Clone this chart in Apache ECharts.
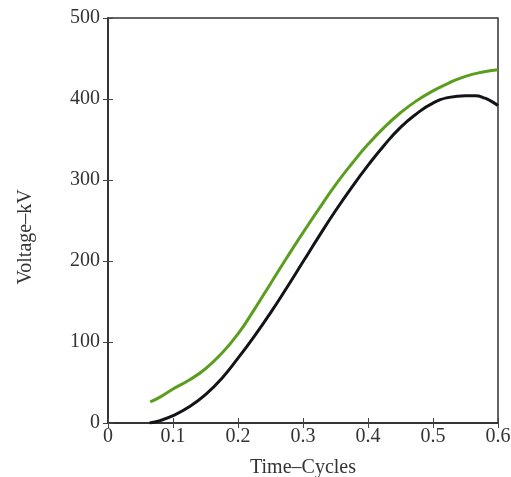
<!DOCTYPE html>
<html>
<head>
<meta charset="utf-8">
<script src="https://cdn.jsdelivr.net/npm/echarts@6/dist/echarts.min.js"></script>
<style>html,body{margin:0;padding:0;background:#fff}#c{width:511px;height:477px}</style>
</head>
<body>
<div id="c"></div>
<script>
var xTicks = [0, 0.1, 0.2, 0.3, 0.4, 0.5, 0.6];
var yTicks = [0, 100, 200, 300, 400, 500];
var greenX = [0.065, 0.08, 0.10, 0.125, 0.15, 0.175, 0.20, 0.225, 0.25, 0.275, 0.30, 0.325, 0.35, 0.375, 0.40, 0.425, 0.45, 0.475, 0.50, 0.525, 0.55, 0.575, 0.60];
var greenY = [26, 32, 42, 53, 67, 86, 110, 140, 172, 204, 235, 265, 294, 320, 344, 365, 383, 398, 410, 420, 428, 433, 436];
var blackX = [0.064, 0.08, 0.10, 0.125, 0.15, 0.175, 0.20, 0.225, 0.25, 0.275, 0.30, 0.325, 0.35, 0.375, 0.40, 0.425, 0.45, 0.475, 0.50, 0.525, 0.55, 0.565, 0.58, 0.59, 0.60];
var blackY = [0, 3, 9, 20, 35, 55, 80, 107, 136, 167, 199, 231, 262, 291, 318, 343, 365, 382, 395, 402, 404, 404, 401, 397, 392];

function pairs(xs, ys) { return xs.map(function (x, i) { return [x, ys[i]]; }); }

var font = '"Liberation Serif", "Times New Roman", serif';
var axisColor = '#333';
var chart = echarts.init(document.getElementById('c'));
chart.setOption({
  animation: false,
  backgroundColor: '#fff',
  grid: { left: 108, right: 13, top: 18, bottom: 54, containLabel: false, outerBoundsMode: 'none',
          show: true, borderColor: axisColor, borderWidth: 1.5 },
  graphic: [{
    type: 'text', x: 26, y: 237, rotation: Math.PI / 2,
    style: { text: 'Voltage–kV', font: '20px ' + font, fill: '#333',
             textAlign: 'center', textVerticalAlign: 'middle' }
  }],
  xAxis: [{
    type: 'value', min: 0, max: 0.6, interval: 0.1,
    name: 'Time–Cycles', nameLocation: 'middle', nameGap: 35,
    nameTextStyle: { fontFamily: font, fontSize: 20, color: '#333' },
    axisLine: { lineStyle: { color: axisColor, width: 1.5 } },
    axisTick: { inside: true, length: 5, lineStyle: { color: '#444' } },
    axisLabel: { fontFamily: font, fontSize: 20, color: '#333', margin: 4,
      formatter: function (v) { var r = Math.round(v * 10) / 10; return xTicks.indexOf(r) >= 0 ? String(r) : ''; } },
    splitLine: { show: false }
  }, {
    type: 'value', min: 0, max: 0.6, interval: 0.1, position: 'top',
    axisLine: { show: true, lineStyle: { color: axisColor, width: 1.5 } },
    axisTick: { show: true, inside: true, length: 5, lineStyle: { color: '#444' } },
    axisLabel: { show: false }, splitLine: { show: false }
  }],
  yAxis: [{
    type: 'value', min: 0, max: 500, interval: 100,
    axisLine: { show: true, lineStyle: { color: axisColor, width: 1.5 } },
    axisTick: { show: true, inside: true, length: 5, lineStyle: { color: '#444' } },
    axisLabel: { fontFamily: font, fontSize: 20, color: '#333', margin: 8,
      formatter: function (v) { return yTicks.indexOf(v) >= 0 ? String(v) : ''; } },
    splitLine: { show: false }
  }, {
    type: 'value', min: 0, max: 500, interval: 100, position: 'right',
    axisLine: { show: true, lineStyle: { color: axisColor, width: 1.5 } },
    axisTick: { show: true, inside: true, length: 5, lineStyle: { color: '#444' } },
    axisLabel: { show: false }, splitLine: { show: false }
  }],
  series: [{
    type: 'line', data: pairs(greenX, greenY), smooth: 0.5, symbol: 'none',
    xAxisIndex: 1, yAxisIndex: 1,
    lineStyle: { color: '#5b9e1f', width: 3 }
  }, {
    type: 'line', data: pairs(blackX, blackY), smooth: 0.5, symbol: 'none',
    xAxisIndex: 0, yAxisIndex: 0,
    lineStyle: { color: '#121418', width: 3 }
  }]
});
</script>
</body>
</html>
